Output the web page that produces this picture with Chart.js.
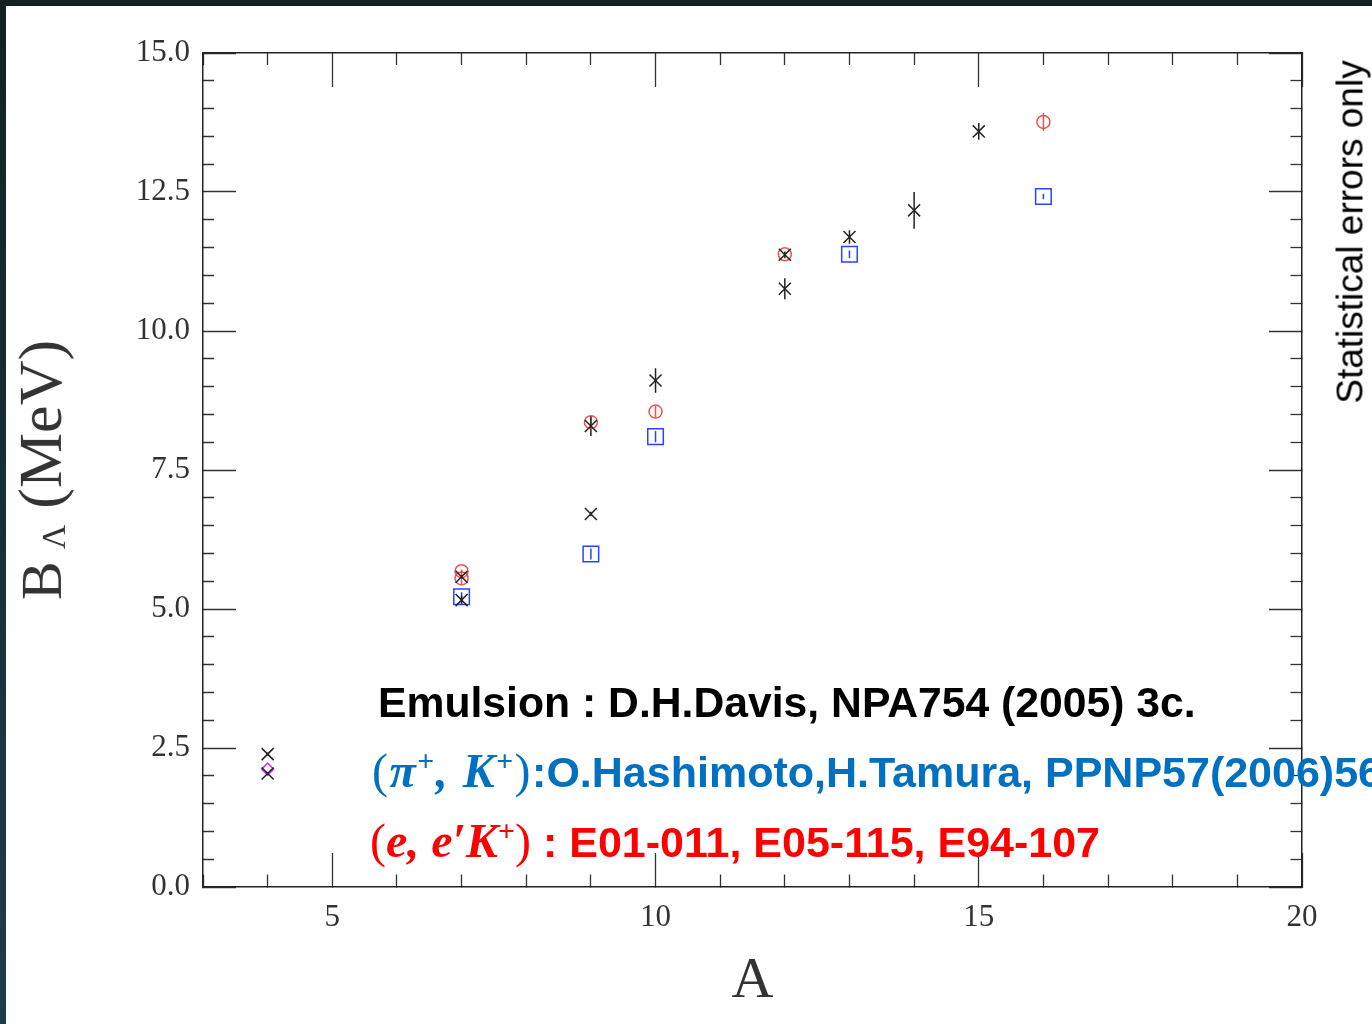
<!DOCTYPE html>
<html>
<head>
<meta charset="utf-8">
<script src="https://cdn.jsdelivr.net/npm/chart.js@4.4.1/dist/chart.umd.min.js"></script>
<style>
  html, body { margin:0; padding:0; }
  body { width:1372px; height:1024px; position:relative; overflow:hidden; background:#ffffff; }
  #c { position:absolute; left:0; top:0; }
  #topbar { position:absolute; left:0; top:0; width:1372px; height:6px; background:#132220; z-index:5; }
  #leftbar { position:absolute; left:0; top:0; width:6px; height:1024px; background:linear-gradient(#132220,#1f3c4a); z-index:5; }
  .note { position:absolute; white-space:nowrap; font-family:"Liberation Sans", Arial, sans-serif; font-weight:bold; line-height:1; z-index:3; }
  .math { font-family:"Liberation Serif", "DejaVu Serif", serif; font-weight:bold; font-style:italic; display:inline-block; }
  .math sup { font-size:0.62em; vertical-align:0.55em; font-style:normal; }
  .up { font-style:normal; font-weight:normal; }
  .rot { position:absolute; white-space:nowrap; transform:translate(-50%,-50%) rotate(-90deg); z-index:3; line-height:1; }
</style>
</head>
<body>
<canvas id="c" width="1372" height="1024"></canvas>
<div id="topbar"></div>
<div id="leftbar"></div>

<div class="note" style="left:378px; top:681px; font-size:42.7px; color:#000;">Emulsion : D.H.Davis, NPA754 (2005) 3c.</div>
<div class="note" style="left:372px; top:746px; font-size:43px; color:#0070c0;"><span class="math" style="font-size:48px; letter-spacing:1.5px;"><span class="up">(</span>π<sup>+</sup>, K<sup>+</sup><span class="up">)</span></span>:O.Hashimoto,H.Tamura, PPNP57(2006)56</div>
<div class="note" style="left:370px; top:816px; font-size:43px; color:#ff0000;"><span class="math" style="font-size:48px;"><span class="up">(</span>e, e′K<sup>+</sup><span class="up">)</span></span> : E01-011, E05-115, E94-107</div>

<div class="rot" style="left:40px; top:470px; font-family:'Liberation Serif', serif; color:#333;"><span style="font-size:58px;">B</span><sub style="font-size:34px; margin-left:12px;">Λ</sub><span style="font-size:62px; margin-left:16px;">(MeV)</span></div>
<div class="rot" style="left:1350px; top:232px; font-family:'Liberation Sans', Arial, sans-serif; font-size:37px; color:#000;">Statistical errors only</div>

<script>
// ---------------- data ----------------
// Emulsion (D.H.Davis)
const emA = [4, 4, 7, 7, 9, 9, 10, 12, 12, 13, 14, 15];
const emB = [2.39, 2.04, 5.58, 5.16, 6.71, 8.29, 9.11, 10.76, 11.37, 11.69, 12.17, 13.59];
const emE = [0.03, 0.03, 0.03, 0.08, 0.04, 0.18, 0.22, 0.19, 0.06, 0.12, 0.33, 0.15];
// (e,e'K+)
const eeA = [7, 7, 9, 10, 12, 16];
const eeB = [5.68, 5.55, 8.36, 8.55, 11.38, 13.76];
const eeE = [0.03, 0.10, 0.08, 0.10, 0.02, 0.16];
// (pi+,K+)
const piA = [7, 9, 10, 13, 16];
const piB = [5.22, 5.99, 8.10, 11.38, 12.42];
const piE = [0.08, 0.10, 0.10, 0.07, 0.05];
// extra point at A=4
const mzA = [4];
const mzB = [2.12];
const mzE = [0.01];

const xMin = 3, xMax = 20, xStep = 1, xMajor = 5;
const yMin = 0, yMax = 15, yStep = 0.5, yMajor = 2.5;

// ---------------- helpers ----------------
const pts = (xs, ys) => xs.map((x, i) => ({x: x, y: ys[i]}));
const bars = (xs, ys, es) => {
  const out = [];
  xs.forEach((x, i) => {
    out.push({x: x, y: ys[i] - es[i]});
    out.push({x: x, y: ys[i] + es[i]});
    out.push({x: x, y: null});
  });
  return out;
};
const isMaj = (v, m) => Math.abs(v / m - Math.round(v / m)) < 1e-6;
const noPad = s => { s.paddingTop = 0; s.paddingBottom = 0; s.paddingLeft = 0; s.paddingRight = 0; };

const tickFont = {family: "'Liberation Serif', serif", size: 31};
const tickCol = '#333';
const gridBase = {drawOnChartArea: false, drawTicks: true, tickWidth: 1.3, tickColor: '#333'};
const borderOpt = {display: true, color: '#222', width: 1.5};

const BLACK = '#222';
const RED = 'rgba(228,55,55,0.85)';
const BLUE = '#2545ff';
const MAG = '#cc33ff';

const common = {xAxisID: 'x', yAxisID: 'y'};

new Chart(document.getElementById('c'), {
  type: 'scatter',
  data: {
    datasets: [
      Object.assign({label: 'Emulsion', data: pts(emA, emB), pointStyle: 'crossRot', pointRadius: 8.5,
        borderColor: BLACK, backgroundColor: BLACK, pointBorderWidth: 1.5}, common),
      Object.assign({label: "(e,e'K+)", data: pts(eeA, eeB), pointStyle: 'circle', pointRadius: 6.5,
        borderColor: RED, backgroundColor: 'rgba(0,0,0,0)', pointBorderWidth: 1.5}, common),
      Object.assign({label: '(pi+,K+)', data: pts(piA, piB), pointStyle: 'rect', pointRadius: 11,
        borderColor: BLUE, backgroundColor: 'rgba(0,0,0,0)', pointBorderWidth: 1.5}, common),
      Object.assign({label: 'A=4', data: pts(mzA, mzB), pointStyle: 'rectRot', pointRadius: 6,
        borderColor: MAG, backgroundColor: 'rgba(0,0,0,0)', pointBorderWidth: 1.5}, common),
      Object.assign({type: 'line', label: 'em err', data: bars(emA, emB, emE), showLine: true, spanGaps: false,
        pointRadius: 0, borderColor: BLACK, borderWidth: 1.5}, common),
      Object.assign({type: 'line', label: 'ee err', data: bars(eeA, eeB, eeE), showLine: true, spanGaps: false,
        pointRadius: 0, borderColor: RED, borderWidth: 1.5}, common),
      Object.assign({type: 'line', label: 'pi err', data: bars(piA, piB, piE), showLine: true, spanGaps: false,
        pointRadius: 0, borderColor: BLUE, borderWidth: 1.5}, common)
    ]
  },
  options: {
    responsive: false,
    devicePixelRatio: 1,
    animation: false,
    events: [],
    layout: {padding: 0},
    plugins: {legend: {display: false}, tooltip: {enabled: false}, title: {display: false}},
    scales: {
      x: {
        type: 'linear', axis: 'x', position: 'bottom', min: xMin, max: xMax,
        ticks: {stepSize: xStep, autoSkip: false, maxRotation: 0, font: tickFont, color: tickCol, padding: 46,
          callback: v => isMaj(v, xMajor) ? String(v) : ''},
        grid: Object.assign({}, gridBase, {tickLength: -34,
          tickBorderDash: c => isMaj(c.tick.value, xMajor) ? [] : [13, 200]}),
        border: borderOpt,
        title: {display: true, text: 'A', color: '#333', font: {family: "'Liberation Serif', serif", size: 58}, padding: {top: 0, bottom: 7}},
        afterFit: s => { noPad(s); s.height = 137; }
      },
      xTop: {
        type: 'linear', axis: 'x', position: 'top', min: xMin, max: xMax,
        ticks: {stepSize: xStep, autoSkip: false, maxRotation: 0, callback: () => ''},
        grid: Object.assign({}, gridBase, {tickLength: -34,
          tickBorderDash: c => isMaj(c.tick.value, xMajor) ? [] : [0, 22, 13, 200]}),
        border: borderOpt,
        afterFit: s => { noPad(s); s.height = 53; }
      },
      y: {
        type: 'linear', axis: 'y', position: 'left', min: yMin, max: yMax,
        ticks: {stepSize: yStep, autoSkip: false, font: tickFont, color: tickCol, padding: 46,
          callback: v => isMaj(v, yMajor) ? v.toFixed(1) : ''},
        grid: Object.assign({}, gridBase, {tickLength: -33,
          tickBorderDash: c => isMaj(c.tick.value, yMajor) ? [] : [0, 22, 12, 200]}),
        border: borderOpt,
        afterFit: s => { noPad(s); s.width = 203; }
      },
      yR: {
        type: 'linear', axis: 'y', position: 'right', min: yMin, max: yMax,
        ticks: {stepSize: yStep, autoSkip: false, callback: () => ''},
        grid: Object.assign({}, gridBase, {tickLength: -33,
          tickBorderDash: c => isMaj(c.tick.value, yMajor) ? [] : [12, 200]}),
        border: borderOpt,
        afterFit: s => { noPad(s); s.width = 70; }
      }
    }
  }
});
</script>
</body>
</html>
